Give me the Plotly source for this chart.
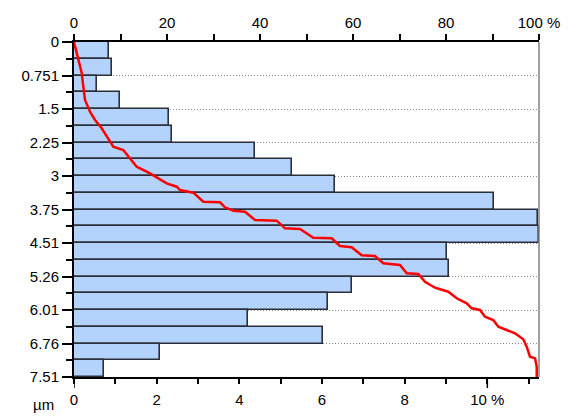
import plotly.graph_objects as go

# Size classes (µm): 20 bins of width 0.3755 from 0 to 7.51
bin_width = 0.3755
bin_count = 20
bin_starts = [round(i * bin_width, 4) for i in range(bin_count)]

# Frequency per class (%)
freq_pct = [0.85, 0.92, 0.56, 1.11, 2.30, 2.37, 4.38, 5.28, 6.32, 10.17,
            11.23, 11.25, 9.03, 9.08, 6.73, 6.15, 4.21, 6.03, 2.08, 0.73]

# Cumulative distribution (% undersize vs size in µm)
cum_pct = [0.0, 0.92, 1.66, 2.00, 2.37, 3.44, 4.52, 5.96, 7.38, 8.45,
           10.60, 12.04, 13.48, 16.34, 18.13, 19.94, 22.09, 22.80, 25.66, 27.81,
           31.40, 32.47, 34.26, 36.77, 38.92, 43.59, 45.38, 48.60, 51.46, 55.42,
           57.20, 59.72, 61.87, 64.73, 66.52, 70.11, 71.55, 74.04, 75.48, 77.63,
           80.49, 82.30, 84.45, 85.53, 87.31, 88.39, 90.17, 91.25, 93.05, 94.84,
           96.62, 97.35, 98.06, 99.14, 99.51, 99.51]
cum_size = [0.0, 0.404, 0.695, 1.002, 1.300, 1.563, 1.749, 1.935, 2.159, 2.347,
            2.421, 2.607, 2.796, 2.944, 3.056, 3.168, 3.244, 3.318, 3.378, 3.580,
            3.594, 3.706, 3.782, 3.804, 3.990, 4.006, 4.177, 4.192, 4.387, 4.401,
            4.573, 4.602, 4.782, 4.797, 4.961, 4.999, 5.185, 5.201, 5.374, 5.508,
            5.598, 5.746, 5.858, 5.970, 6.008, 6.158, 6.232, 6.382, 6.456, 6.530,
            6.665, 6.831, 7.055, 7.091, 7.279, 7.510]

# Axis labels
size_ticks = [0, 0.751, 1.502, 2.253, 3.004, 3.755, 4.506, 5.257, 6.008, 6.759, 7.51]
size_labels = ["0", "0.751", "1.5", "2.25", "3", "3.75", "4.51", "5.26", "6.01", "6.76", "7.51"]
freq_ticks = [0, 2, 4, 6, 8, 10]
freq_labels = ["0", "2", "4", "6", "8", "10 %"]
cum_ticks = [0, 20, 40, 60, 80, 100]
cum_labels = ["0", "20", "40", "60", "80", "100 %"]

FONT = "Liberation Sans, Arial, sans-serif"

fig = go.Figure()

fig.add_trace(go.Bar(
    x=freq_pct,
    y=[b + bin_width / 2 for b in bin_starts],
    width=bin_width,
    orientation="h",
    marker=dict(color="#b4d3fc", line=dict(color="#2a2f3a", width=1.6)),
    xaxis="x", yaxis="y",
    showlegend=False,
))

fig.add_trace(go.Scatter(
    x=cum_pct, y=cum_size,
    mode="lines",
    line=dict(color="#ff0000", width=2.5),
    xaxis="x2", yaxis="y",
    showlegend=False,
))

fig.update_layout(
    width=576, height=417,
    margin=dict(l=74, r=37, t=42, b=40, autoexpand=False),
    paper_bgcolor="white", plot_bgcolor="white",
    font=dict(family=FONT, size=15, color="black"),
    bargap=0,
    xaxis=dict(
        range=[0, 11.25], side="bottom", automargin=False,
        tickmode="array", tickvals=freq_ticks, ticktext=freq_labels,
        ticks="outside", ticklen=5, tickwidth=1.5, tickcolor="black",
        minor=dict(tickvals=list(range(0, 12)), ticks="outside", ticklen=5,
                   tickwidth=1.5, tickcolor="black", showgrid=False),
        showline=True, linecolor="black", linewidth=2,
        showgrid=False, zeroline=False,
        ticklabelstandoff=3,
        tickfont=dict(size=15),
    ),
    xaxis2=dict(
        range=[0, 100], side="top", overlaying="x", automargin=False,
        tickmode="array", tickvals=cum_ticks, ticktext=cum_labels,
        ticks="outside", ticklen=6, tickwidth=1.5, tickcolor="black",
        minor=dict(tickvals=list(range(0, 101, 10)), ticks="outside", ticklen=6,
                   tickwidth=1.5, tickcolor="black", showgrid=False),
        showline=True, linecolor="black", linewidth=2,
        showgrid=False, zeroline=False,
        tickfont=dict(size=15),
    ),
    yaxis=dict(
        range=[7.51, 0], automargin=False,
        tickmode="array", tickvals=size_ticks, ticktext=size_labels,
        ticks="outside", ticklen=10, tickwidth=1.5, tickcolor="black",
        minor=dict(tickvals=[b + bin_width for b in bin_starts[::2]],
                   ticks="outside", ticklen=6, tickwidth=1.5, tickcolor="black",
                   showgrid=False),
        showline=True, linecolor="black", linewidth=2,
        showgrid=True, gridcolor="#8c8c8c", gridwidth=1, griddash="1px,2px",
        zeroline=False,
        tickfont=dict(size=15),
    ),
    shapes=[
        dict(type="line", xref="paper", yref="paper", x0=1, x1=1, y0=0, y1=1,
             line=dict(color="#808080", width=1.5)),
        dict(type="line", xref="x", yref="paper", x0=0, x1=0, y0=0, y1=-0.033,
             line=dict(color="black", width=1.5)),
        dict(type="line", xref="x", yref="paper", x0=10, x1=10, y0=0, y1=-0.033,
             line=dict(color="black", width=1.5)),
    ],
    annotations=[
        dict(text="µm", xref="paper", yref="paper", x=-0.065, y=-0.082,
             xanchor="center", yanchor="middle", showarrow=False,
             font=dict(size=15)),
    ],
)

fig.write_html("out.html")
